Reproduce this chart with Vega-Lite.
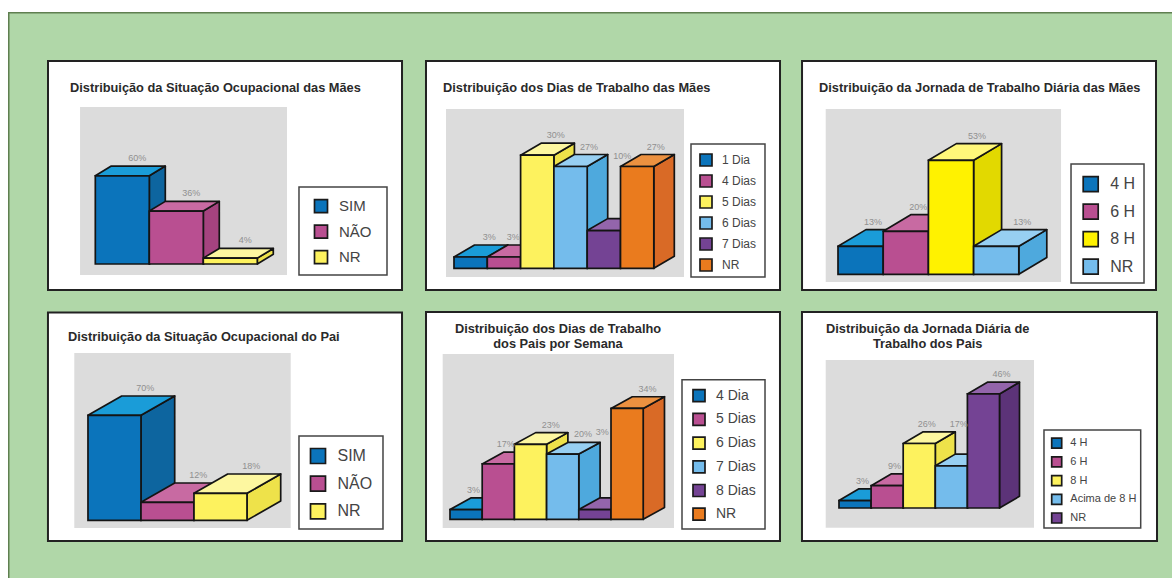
{
"$schema":"https://vega.github.io/schema/vega-lite/v6.json",
"background":"#ffffff",
"padding":{"left":8,"top":12,"right":0,"bottom":0},
"autosize":{"type":"pad","contains":"padding"},
"spacing":0,
"config":{
 "view":{"fill":"#b0d7a8","stroke":null},
 "axis":{"disable":true},
 "concat":{"spacing":0},
 "font":"Liberation Sans",
 "area":{"stroke":"#141414","strokeWidth":1.7,"strokeJoin":"round"},
 "rect":{"stroke":"#141414","strokeWidth":1.7},
 "text":{"font":"Liberation Sans"},
 "legend":{"title":null,"orient":"none","padding":0,"symbolType":"square","symbolStrokeColor":"#1a1a1a","symbolStrokeWidth":1.3,"labelColor":"#444444","labelFont":"Liberation Sans","symbolOpacity":1,"labelLimit":200}
},
"vconcat":[
{"hconcat":[
{"width":406,"height":289,
 "data":{"values":[{"cat":"SIM","i":0,"v":60},{"cat":"NÃO","i":1,"v":36},{"cat":"NR","i":2,"v":4}]},
 "transform":[{"fold":["near","far"]},{"calculate":"datum.key==='far'?1:0","as":"t"},{"calculate":"datum.i+datum.t*0.296","as":"xl"},{"calculate":"datum.xl+1","as":"xr"},{"calculate":"datum.t*6.6","as":"yb"},{"calculate":"datum.v+datum.yb","as":"yt"},{"calculate":"(datum.xl+datum.xr)/2","as":"xm"}],
 "resolve":{"scale":{"color":"independent"}},
 "layer":[
  {"data":{"values":[{}]},"mark":{"type":"rect","fill":"#5f7f50","stroke":null},"encoding":{"y":{"datum":170.43,"type":"quantitative","scale":{"domain":[-25.17,171.43],"nice":false,"zero":false}},"y2":{"datum":171.43}}},
  {"data":{"values":[{}]},"mark":{"type":"rect","fill":"#5f7f50","stroke":null},"encoding":{"x":{"datum":-1.617,"type":"quantitative","scale":{"domain":[-1.617,5.902],"nice":false,"zero":false}},"x2":{"datum":-1.589}}},
  {"data":{"values":[{}]},"mark":{"type":"rect","fill":"#ffffff","stroke":"#222222","strokeWidth":2},"encoding":{"x":{"datum":-0.876,"type":"quantitative"},"x2":{"datum":5.68},"y":{"datum":-17.69,"type":"quantitative"},"y2":{"datum":138.1}}},
  {"data":{"values":[{}]},"mark":{"type":"rect","fill":"#dcdcdc","stroke":null},"encoding":{"x":{"datum":-0.283,"type":"quantitative"},"x2":{"datum":3.55},"y":{"datum":-7.48,"type":"quantitative"},"y2":{"datum":106.8}}},
  {"data":{"values":[{}]},"mark":{"type":"rect","fill":"#ffffff","stroke":"#444444","strokeWidth":1.5},"encoding":{"x":{"datum":3.772,"type":"quantitative"},"x2":{"datum":5.402},"y":{"datum":-7.48,"type":"quantitative"},"y2":{"datum":52.38}}},
  {"data":{"values":[{}]},"mark":{"type":"text","text":"Distribuição da Situação Ocupacional das Mães","fontWeight":"bold","fontSize":12.8,"align":"left","baseline":"alphabetic","fill":"#2a2a2a"},"encoding":{"x":{"datum":-0.469,"type":"quantitative"},"y":{"datum":116.7,"type":"quantitative"}}},
  {"mark":"area","encoding":{"x":{"field":"xr","type":"quantitative"},"y":{"field":"yt","type":"quantitative"},"y2":{"field":"yb"},"color":{"field":"i","type":"ordinal","scale":{"range":["#0d659f","#a5437f","#eee24a"]},"legend":null}}},
  {"mark":{"type":"area","orient":"horizontal"},"encoding":{"x":{"field":"xl","type":"quantitative"},"x2":{"field":"xr"},"y":{"field":"yt","type":"quantitative"},"color":{"field":"i","type":"ordinal","scale":{"range":["#1a9cd8","#c86aa2","#fdf7a0"]},"legend":null}}},
  {"transform":[{"filter":"datum.t===0"}],"mark":"rect","encoding":{"x":{"field":"xl","type":"quantitative"},"x2":{"field":"xr"},"y":{"field":"yt","type":"quantitative"},"y2":{"field":"yb"},"color":{"field":"cat","type":"nominal","scale":{"domain":["SIM","NÃO","NR"],"range":["#0b74bb","#b94f91","#fdf25e"]},"legend":{"legendX":305.5,"legendY":186.7,"labelFontSize":15,"symbolSize":169,"rowPadding":4.5,"labelOffset":10.5}}}},
  {"transform":[{"filter":"datum.t===1"},{"calculate":"datum.v+'%'","as":"rotulo"}],"mark":{"type":"text","fontSize":9,"fill":"#909090","dx":-1,"dy":-8,"baseline":"middle"},"encoding":{"x":{"field":"xm","type":"quantitative"},"y":{"field":"yt","type":"quantitative"},"text":{"field":"rotulo"}}}
 ]},
{"width":377,"height":289,
 "data":{"values":[{"cat":"1 Dia","i":0,"v":3},{"cat":"4 Dias","i":1,"v":3},{"cat":"5 Dias","i":2,"v":30},{"cat":"6 Dias","i":3,"v":27},{"cat":"7 Dias","i":4,"v":10},{"cat":"NR","i":5,"v":27}]},
 "transform":[{"fold":["near","far"]},{"calculate":"datum.key==='far'?1:0","as":"t"},{"calculate":"datum.i+datum.t*0.616","as":"xl"},{"calculate":"datum.xl+1","as":"xr"},{"calculate":"datum.t*3.18","as":"yb"},{"calculate":"datum.v+datum.yb","as":"yt"},{"calculate":"(datum.xl+datum.xr)/2","as":"xm"}],
 "resolve":{"scale":{"color":"independent"}},
 "layer":[
  {"data":{"values":[{}]},"mark":{"type":"rect","fill":"#5f7f50","stroke":null},"encoding":{"y":{"datum":67.58,"type":"quantitative","scale":{"domain":[-8.67,67.98],"nice":false,"zero":false}},"y2":{"datum":67.98}}},
  {"data":{"values":[{}]},"mark":{"type":"rect","fill":"#ffffff","stroke":"#222222","strokeWidth":2},"encoding":{"x":{"datum":-0.841,"type":"quantitative","scale":{"domain":[-1.201,10.12],"nice":false,"zero":false}},"x2":{"datum":9.79},"y":{"datum":-5.76,"type":"quantitative"},"y2":{"datum":54.99}}},
  {"data":{"values":[{}]},"mark":{"type":"rect","fill":"#dcdcdc","stroke":null},"encoding":{"x":{"datum":-0.24,"type":"quantitative"},"x2":{"datum":6.907},"y":{"datum":-2.31,"type":"quantitative"},"y2":{"datum":42.25}}},
  {"data":{"values":[{}]},"mark":{"type":"rect","fill":"#ffffff","stroke":"#444444","strokeWidth":1.5},"encoding":{"x":{"datum":7.117,"type":"quantitative"},"x2":{"datum":9.339},"y":{"datum":-2.31,"type":"quantitative"},"y2":{"datum":32.97}}},
  {"data":{"values":[{}]},"mark":{"type":"text","text":"Distribuição dos Dias de Trabalho das Mães","fontWeight":"bold","fontSize":12.8,"align":"left","baseline":"alphabetic","fill":"#2a2a2a"},"encoding":{"x":{"datum":-0.33,"type":"quantitative"},"y":{"datum":46.68,"type":"quantitative"}}},
  {"mark":"area","encoding":{"x":{"field":"xr","type":"quantitative"},"y":{"field":"yt","type":"quantitative"},"y2":{"field":"yb"},"color":{"field":"i","type":"ordinal","scale":{"range":["#0d659f","#a5437f","#eee24a","#4ea9dd","#5c3378","#d96a26"]},"legend":null}}},
  {"mark":{"type":"area","orient":"horizontal"},"encoding":{"x":{"field":"xl","type":"quantitative"},"x2":{"field":"xr"},"y":{"field":"yt","type":"quantitative"},"color":{"field":"i","type":"ordinal","scale":{"range":["#1a9cd8","#c86aa2","#fdf7a0","#97cff2","#9365ab","#ec9140"]},"legend":null}}},
  {"transform":[{"filter":"datum.t===0"}],"mark":"rect","encoding":{"x":{"field":"xl","type":"quantitative"},"x2":{"field":"xr"},"y":{"field":"yt","type":"quantitative"},"y2":{"field":"yb"},"color":{"field":"cat","type":"nominal","scale":{"domain":["1 Dia","4 Dias","5 Dias","6 Dias","7 Dias","NR"],"range":["#0b74bb","#b94f91","#fdf25e","#74bcec","#744394","#ea7b1e"]},"legend":{"legendX":285,"legendY":141,"labelFontSize":12,"symbolSize":144,"rowPadding":1,"labelOffset":9}}}},
  {"transform":[{"filter":"datum.t===1"},{"calculate":"datum.v+'%'","as":"rotulo"},{"calculate":"datum.cat==='7 Dias'?27.68:datum.yt","as":"yl"},{"calculate":"datum.cat==='4 Dias'?datum.xm-0.28:datum.xm","as":"xa"}],"mark":{"type":"text","fontSize":9,"fill":"#909090","dx":-2,"dy":-8,"baseline":"middle"},"encoding":{"x":{"field":"xa","type":"quantitative"},"y":{"field":"yl","type":"quantitative"},"text":{"field":"rotulo"}}}
 ]},
{"width":381,"height":289,
 "data":{"values":[{"cat":"4 H","i":0,"v":13},{"cat":"6 H","i":1,"v":20},{"cat":"8 H","i":2,"v":53},{"cat":"NR","i":3,"v":13}]},
 "transform":[{"fold":["near","far"]},{"calculate":"datum.key==='far'?1:0","as":"t"},{"calculate":"datum.i+datum.t*0.619","as":"xl"},{"calculate":"datum.xl+1","as":"xr"},{"calculate":"datum.t*7.77","as":"yb"},{"calculate":"datum.v+datum.yb","as":"yt"},{"calculate":"(datum.xl+datum.xr)/2","as":"xm"}],
 "resolve":{"scale":{"color":"independent"}},
 "layer":[
  {"data":{"values":[{}]},"mark":{"type":"rect","fill":"#5f7f50","stroke":null},"encoding":{"y":{"datum":121.3,"type":"quantitative","scale":{"domain":[-12.42,122.0],"nice":false,"zero":false}},"y2":{"datum":122.0}}},
  {"data":{"values":[{}]},"mark":{"type":"rect","fill":"#ffffff","stroke":"#222222","strokeWidth":2},"encoding":{"x":{"datum":-0.796,"type":"quantitative","scale":{"domain":[-1.04,7.389],"nice":false,"zero":false}},"x2":{"datum":7.035},"y":{"datum":-7.3,"type":"quantitative"},"y2":{"datum":99.21}}},
  {"data":{"values":[{}]},"mark":{"type":"rect","fill":"#dcdcdc","stroke":null},"encoding":{"x":{"datum":-0.272,"type":"quantitative"},"x2":{"datum":4.934},"y":{"datum":-3.58,"type":"quantitative"},"y2":{"datum":76.88}}},
  {"data":{"values":[{}]},"mark":{"type":"rect","fill":"#ffffff","stroke":"#444444","strokeWidth":1.5},"encoding":{"x":{"datum":5.155,"type":"quantitative"},"x2":{"datum":6.77},"y":{"datum":-4.05,"type":"quantitative"},"y2":{"datum":51.3}}},
  {"data":{"values":[{}]},"mark":{"type":"text","text":"Distribuição da Jornada de Trabalho Diária das Mães","fontWeight":"bold","fontSize":12.8,"align":"left","baseline":"alphabetic","fill":"#2a2a2a"},"encoding":{"x":{"datum":-0.42,"type":"quantitative"},"y":{"datum":84.65,"type":"quantitative"}}},
  {"mark":"area","encoding":{"x":{"field":"xr","type":"quantitative"},"y":{"field":"yt","type":"quantitative"},"y2":{"field":"yb"},"color":{"field":"i","type":"ordinal","scale":{"range":["#0d659f","#a5437f","#e2d900","#4ea9dd"]},"legend":null}}},
  {"mark":{"type":"area","orient":"horizontal"},"encoding":{"x":{"field":"xl","type":"quantitative"},"x2":{"field":"xr"},"y":{"field":"yt","type":"quantitative"},"color":{"field":"i","type":"ordinal","scale":{"range":["#1a9cd8","#c86aa2","#fff77a","#97cff2"]},"legend":null}}},
  {"transform":[{"filter":"datum.t===0"}],"mark":"rect","encoding":{"x":{"field":"xl","type":"quantitative"},"x2":{"field":"xr"},"y":{"field":"yt","type":"quantitative"},"y2":{"field":"yb"},"color":{"field":"cat","type":"nominal","scale":{"domain":["4 H","6 H","8 H","NR"],"range":["#0b74bb","#b94f91","#fff200","#74bcec"]},"legend":{"legendX":291.2,"legendY":163.7,"labelFontSize":16,"symbolSize":225,"rowPadding":4.5,"labelOffset":11}}}},
  {"transform":[{"filter":"datum.t===1"},{"calculate":"datum.v+'%'","as":"rotulo"},{"calculate":"datum.i<2?datum.xm-0.3:datum.xm","as":"xa"}],"mark":{"type":"text","fontSize":9,"fill":"#909090","dx":-2,"dy":-8,"baseline":"middle"},"encoding":{"x":{"field":"xa","type":"quantitative"},"y":{"field":"yt","type":"quantitative"},"text":{"field":"rotulo"}}}
 ]}
]},
{"hconcat":[
{"width":406,"height":277,
 "data":{"values":[{"cat":"SIM","i":0,"v":70},{"cat":"NÃO","i":1,"v":12},{"cat":"NR","i":2,"v":18}]},
 "transform":[{"fold":["near","far"]},{"calculate":"datum.key==='far'?1:0","as":"t"},{"calculate":"datum.i+datum.t*0.636","as":"xl"},{"calculate":"datum.xl+1","as":"xr"},{"calculate":"datum.t*12.87","as":"yb"},{"calculate":"datum.v+datum.yb","as":"yt"},{"calculate":"(datum.xl+datum.xr)/2","as":"xm"}],
 "resolve":{"scale":{"color":"independent"}},
 "layer":[
  {"data":{"values":[{}]},"mark":{"type":"rect","fill":"#5f7f50","stroke":null},"encoding":{"x":{"datum":-1.509,"type":"quantitative","scale":{"domain":[-1.509,6.151],"nice":false,"zero":false}},"x2":{"datum":-1.481}}},
  {"data":{"values":[{}]},"mark":{"type":"rect","fill":"#ffffff","stroke":"#222222","strokeWidth":2},"encoding":{"x":{"datum":-0.755,"type":"quantitative"},"x2":{"datum":5.925},"y":{"datum":-13.8,"type":"quantitative","scale":{"domain":[-38.47,146.2],"nice":false,"zero":false}},"y2":{"datum":138.53}}},
  {"data":{"values":[{}]},"mark":{"type":"rect","fill":"#dcdcdc","stroke":null},"encoding":{"x":{"datum":-0.258,"type":"quantitative"},"x2":{"datum":3.825},"y":{"datum":-5.13,"type":"quantitative"},"y2":{"datum":111.53}}},
  {"data":{"values":[{}]},"mark":{"type":"rect","fill":"#ffffff","stroke":"#444444","strokeWidth":1.5},"encoding":{"x":{"datum":3.981,"type":"quantitative"},"x2":{"datum":5.566},"y":{"datum":-5.8,"type":"quantitative"},"y2":{"datum":56.2}}},
  {"data":{"values":[{}]},"mark":{"type":"text","text":"Distribuição da Situação Ocupacional do Pai","fontWeight":"bold","fontSize":12.8,"align":"left","baseline":"alphabetic","fill":"#2a2a2a"},"encoding":{"x":{"datum":-0.377,"type":"quantitative"},"y":{"datum":119.53,"type":"quantitative"}}},
  {"mark":"area","encoding":{"x":{"field":"xr","type":"quantitative"},"y":{"field":"yt","type":"quantitative"},"y2":{"field":"yb"},"color":{"field":"i","type":"ordinal","scale":{"range":["#0d659f","#a5437f","#eee24a"]},"legend":null}}},
  {"mark":{"type":"area","orient":"horizontal"},"encoding":{"x":{"field":"xl","type":"quantitative"},"x2":{"field":"xr"},"y":{"field":"yt","type":"quantitative"},"color":{"field":"i","type":"ordinal","scale":{"range":["#1a9cd8","#c86aa2","#fdf7a0"]},"legend":null}}},
  {"transform":[{"filter":"datum.t===0"}],"mark":"rect","encoding":{"x":{"field":"xl","type":"quantitative"},"x2":{"field":"xr"},"y":{"field":"yt","type":"quantitative"},"y2":{"field":"yb"},"color":{"field":"cat","type":"nominal","scale":{"domain":["SIM","NÃO","NR"],"range":["#0b74bb","#b94f91","#fdf25e"]},"legend":{"legendX":301.5,"legendY":146.5,"labelFontSize":16,"symbolSize":225,"rowPadding":4.7,"labelOffset":11}}}},
  {"transform":[{"filter":"datum.t===1"},{"calculate":"datum.v+'%'","as":"rotulo"}],"mark":{"type":"text","fontSize":9,"fill":"#909090","dx":-3,"dy":-8,"baseline":"middle"},"encoding":{"x":{"field":"xm","type":"quantitative"},"y":{"field":"yt","type":"quantitative"},"text":{"field":"rotulo"}}}
 ]},
{"width":377,"height":277,
 "data":{"values":[{"cat":"4 Dia","i":0,"v":3},{"cat":"5 Dias","i":1,"v":17},{"cat":"6 Dias","i":2,"v":23},{"cat":"7 Dias","i":3,"v":20},{"cat":"8 Dias","i":4,"v":3},{"cat":"NR","i":5,"v":34}]},
 "transform":[{"fold":["near","far"]},{"calculate":"datum.key==='far'?1:0","as":"t"},{"calculate":"datum.i+datum.t*0.661","as":"xl"},{"calculate":"datum.xl+1","as":"xr"},{"calculate":"datum.t*3.59","as":"yb"},{"calculate":"datum.v+datum.yb","as":"yt"},{"calculate":"(datum.xl+datum.xr)/2","as":"xm"}],
 "resolve":{"scale":{"color":"independent"}},
 "layer":[
  {"data":{"values":[{}]},"mark":{"type":"rect","fill":"#ffffff","stroke":"#222222","strokeWidth":2},"encoding":{"x":{"datum":-0.745,"type":"quantitative","scale":{"domain":[-1.118,10.59],"nice":false,"zero":false}},"x2":{"datum":10.248},"y":{"datum":-6.66,"type":"quantitative","scale":{"domain":[-18.0,66.96],"nice":false,"zero":false}},"y2":{"datum":63.59}}},
  {"data":{"values":[{}]},"mark":{"type":"rect","fill":"#dcdcdc","stroke":null},"encoding":{"x":{"datum":-0.227,"type":"quantitative"},"x2":{"datum":6.957},"y":{"datum":-2.67,"type":"quantitative"},"y2":{"datum":50.71}}},
  {"data":{"values":[{}]},"mark":{"type":"rect","fill":"#ffffff","stroke":"#444444","strokeWidth":1.5},"encoding":{"x":{"datum":7.205,"type":"quantitative"},"x2":{"datum":9.783},"y":{"datum":-2.98,"type":"quantitative"},"y2":{"datum":42.82}}},
  {"data":{"values":[{}]},"mark":{"type":"text","text":["Distribuição dos Dias de Trabalho","dos Pais por Semana"],"lineHeight":14.7,"fontWeight":"bold","fontSize":12.8,"align":"center","baseline":"alphabetic","fill":"#2a2a2a"},"encoding":{"x":{"datum":3.354,"type":"quantitative"},"y":{"datum":57.15,"type":"quantitative"}}},
  {"mark":"area","encoding":{"x":{"field":"xr","type":"quantitative"},"y":{"field":"yt","type":"quantitative"},"y2":{"field":"yb"},"color":{"field":"i","type":"ordinal","scale":{"range":["#0d659f","#a5437f","#eee24a","#4ea9dd","#5c3378","#d96a26"]},"legend":null}}},
  {"mark":{"type":"area","orient":"horizontal"},"encoding":{"x":{"field":"xl","type":"quantitative"},"x2":{"field":"xr"},"y":{"field":"yt","type":"quantitative"},"color":{"field":"i","type":"ordinal","scale":{"range":["#1a9cd8","#c86aa2","#fdf7a0","#97cff2","#9365ab","#ec9140"]},"legend":null}}},
  {"transform":[{"filter":"datum.t===0"}],"mark":"rect","encoding":{"x":{"field":"xl","type":"quantitative"},"x2":{"field":"xr"},"y":{"field":"yt","type":"quantitative"},"y2":{"field":"yb"},"color":{"field":"cat","type":"nominal","scale":{"domain":["4 Dia","5 Dias","6 Dias","7 Dias","8 Dias","NR"],"range":["#0b74bb","#b94f91","#fdf25e","#74bcec","#744394","#ea7b1e"]},"legend":{"legendX":278,"legendY":87.7,"labelFontSize":14,"symbolSize":144,"rowPadding":3.7,"labelOffset":10}}}},
  {"transform":[{"filter":"datum.t===1"},{"calculate":"datum.v+'%'","as":"rotulo"},{"calculate":"datum.cat==='8 Dias'?24.39:datum.yt","as":"yl"},{"calculate":"datum.i<2||datum.i===4?datum.xm-0.4:datum.xm","as":"xa"}],"mark":{"type":"text","fontSize":9,"fill":"#909090","dx":-1,"dy":-8,"baseline":"middle"},"encoding":{"x":{"field":"xa","type":"quantitative"},"y":{"field":"yl","type":"quantitative"},"text":{"field":"rotulo"}}}
 ]},
{"width":381,"height":277,
 "data":{"values":[{"cat":"4 H","i":0,"v":3},{"cat":"6 H","i":1,"v":9},{"cat":"8 H","i":2,"v":26},{"cat":"Acima de 8 H","i":3,"v":17},{"cat":"NR","i":4,"v":46}]},
 "transform":[{"fold":["near","far"]},{"calculate":"datum.key==='far'?1:0","as":"t"},{"calculate":"datum.i+datum.t*0.623","as":"xl"},{"calculate":"datum.xl+1","as":"xr"},{"calculate":"datum.t*4.72","as":"yb"},{"calculate":"datum.v+datum.yb","as":"yt"},{"calculate":"(datum.xl+datum.xr)/2","as":"xm"}],
 "resolve":{"scale":{"color":"independent"}},
 "layer":[
  {"data":{"values":[{}]},"mark":{"type":"rect","fill":"#ffffff","stroke":"#222222","strokeWidth":2},"encoding":{"x":{"datum":-1.153,"type":"quantitative","scale":{"domain":[-1.495,10.374],"nice":false,"zero":false}},"x2":{"datum":9.907},"y":{"datum":-13.31,"type":"quantitative","scale":{"domain":[-28.23,83.47],"nice":false,"zero":false}},"y2":{"datum":79.03}}},
  {"data":{"values":[{}]},"mark":{"type":"rect","fill":"#dcdcdc","stroke":null},"encoding":{"x":{"datum":-0.414,"type":"quantitative"},"x2":{"datum":6.075},"y":{"datum":-7.94,"type":"quantitative"},"y2":{"datum":59.68}}},
  {"data":{"values":[{}]},"mark":{"type":"rect","fill":"#ffffff","stroke":"#444444","strokeWidth":1.5},"encoding":{"x":{"datum":6.386,"type":"quantitative"},"x2":{"datum":9.399},"y":{"datum":-8.06,"type":"quantitative"},"y2":{"datum":31.45}}},
  {"data":{"values":[{}]},"mark":{"type":"text","text":["Distribuição da Jornada Diária de","Trabalho dos Pais"],"lineHeight":14.7,"fontWeight":"bold","fontSize":12.8,"align":"center","baseline":"alphabetic","fill":"#2a2a2a"},"encoding":{"x":{"datum":2.763,"type":"quantitative"},"y":{"datum":70.56,"type":"quantitative"}}},
  {"mark":"area","encoding":{"x":{"field":"xr","type":"quantitative"},"y":{"field":"yt","type":"quantitative"},"y2":{"field":"yb"},"color":{"field":"i","type":"ordinal","scale":{"range":["#0d659f","#a5437f","#eee24a","#4ea9dd","#5c3378"]},"legend":null}}},
  {"mark":{"type":"area","orient":"horizontal"},"encoding":{"x":{"field":"xl","type":"quantitative"},"x2":{"field":"xr"},"y":{"field":"yt","type":"quantitative"},"color":{"field":"i","type":"ordinal","scale":{"range":["#1a9cd8","#c86aa2","#fdf7a0","#97cff2","#9365ab"]},"legend":null}}},
  {"transform":[{"filter":"datum.t===0"}],"mark":"rect","encoding":{"x":{"field":"xl","type":"quantitative"},"x2":{"field":"xr"},"y":{"field":"yt","type":"quantitative"},"y2":{"field":"yb"},"color":{"field":"cat","type":"nominal","scale":{"domain":["4 H","6 H","8 H","Acima de 8 H","NR"],"range":["#0b74bb","#b94f91","#fdf25e","#74bcec","#744394"]},"legend":{"legendX":259.7,"legendY":136.2,"labelFontSize":11,"symbolSize":100,"rowPadding":0.7,"labelOffset":7.6}}}},
  {"transform":[{"filter":"datum.t===1"},{"calculate":"datum.v+'%'","as":"rotulo"},{"calculate":"datum.cat==='Acima de 8 H'?30.72:datum.yt","as":"yl"},{"calculate":"datum.i<4?datum.xm-0.33:datum.xm","as":"xa"}],"mark":{"type":"text","fontSize":9,"fill":"#909090","dx":-2,"dy":-8,"baseline":"middle"},"encoding":{"x":{"field":"xa","type":"quantitative"},"y":{"field":"yl","type":"quantitative"},"text":{"field":"rotulo"}}}
 ]}
]}
]}
